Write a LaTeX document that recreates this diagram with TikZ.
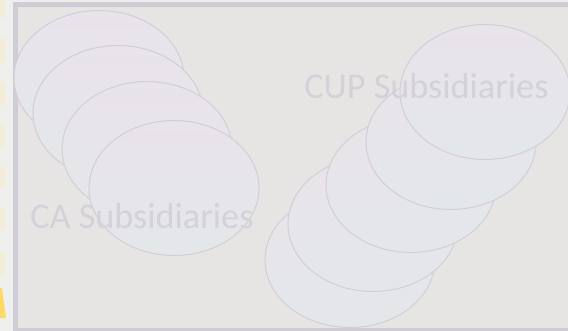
\documentclass[tikz,border=0pt]{standalone}
\usepackage{fontspec}
\setmainfont{Carlito}
\usetikzlibrary{shapes.geometric}

\definecolor{slidebg}{HTML}{EFEFED}
\definecolor{framefill}{HTML}{E6E5E3}
\definecolor{frameline}{HTML}{CFCCD6}
\definecolor{tabyellow}{HTML}{F3EDD8}
\definecolor{markyellow}{HTML}{FFD966}
\definecolor{subtop}{HTML}{E9E3EA}
\definecolor{subbottom}{HTML}{E3E7EA}
\definecolor{subline}{HTML}{D3CFD8}
\definecolor{labelgray}{HTML}{D4D1D8}

\tikzset{
    sub/.style = {ellipse, draw = subline, line width = 0.6pt,
                  top color = subtop, bottom color = subbottom,
                  minimum width = 3.4cm, minimum height = 2.7cm, inner sep = 0pt},
    grouplabel/.style = {text = labelgray, font = \fontsize{20.6}{25}\selectfont, inner sep = 0pt}
}

\begin{document}
\begin{tikzpicture}[x = 0.02cm, y = -0.02cm]

    \useasboundingbox (0,0) rectangle (568,331);
    \fill[slidebg] (0,0) rectangle (568,331);

    % tabs down the left edge
    \foreach \ya/\yb in {0/18, 38/62, 82/105, 123/147, 167/188, 208/230, 252/275}
        \fill[tabyellow] (0,\ya) rectangle (5,\yb);
    \fill[markyellow] (0,288) -- (2,288) -- (6,318) -- (0,318) -- cycle;

    % frame
    \fill[frameline] (13,2) rectangle (570,331);
    \fill[framefill] (18,7) rectangle (570,328);

    % CA group
    \node (CA1) at (99,78)  [sub] {};
    \node (CA2) at (118,113) [sub] {};
    \node (CA3) at (147,149) [sub] {};
    \node (CA4) at (174,188) [sub] {};

    % CUP group
    \node (CUP5) at (350,260) [sub] {};
    \node (CUP4) at (373,224) [sub] {};
    \node (CUP3) at (411,185) [sub] {};
    \node (CUP2) at (451,142) [sub] {};
    \node (CUP1) at (485,92)  [sub] {};

    \node (CAlabel)  at (30,228) [grouplabel, anchor = base west] {CA Subsidiaries};
    \node (CUPlabel) at (304,99) [grouplabel, anchor = base west] {CUP Subsidiaries};

\end{tikzpicture}
\end{document}
